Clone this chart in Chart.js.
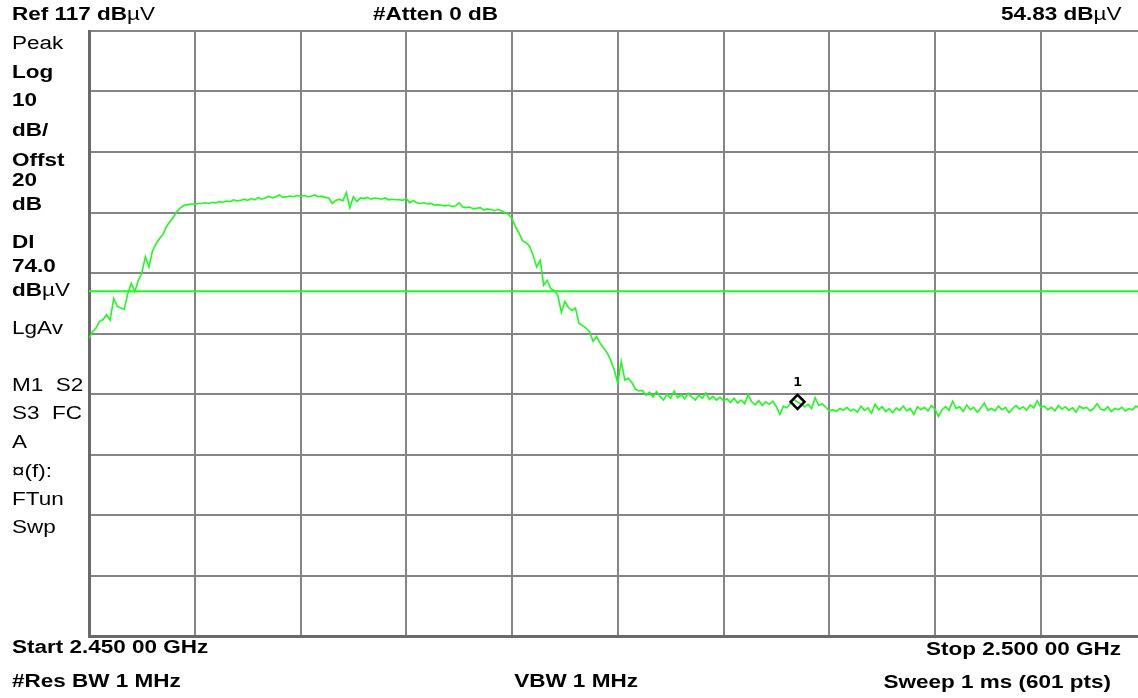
<!DOCTYPE html>
<html>
<head>
<meta charset="utf-8">
<script src="https://cdn.jsdelivr.net/npm/chart.js@4.4.1/dist/chart.umd.min.js"></script>
<style>
  html, body { margin: 0; padding: 0; background: #fff; width: 1138px; height: 698px; overflow: hidden; }
  #wrap { position: absolute; left: 0; top: 0; width: 1156px; height: 698px; }
  canvas { position: absolute; left: 0; top: 0; }
  .t { position: absolute; font-family: "Liberation Sans", Arial, sans-serif; font-size: 18px; line-height: 20px;
       color: #000; white-space: pre; transform: scaleX(1.25); transform-origin: left center; }
  .b { font-weight: bold; }
  .n { font-weight: normal; }
  .r { transform-origin: right center; }
  .c { transform-origin: center center; }
  #mk { position: absolute; font-family: "DejaVu Sans Mono", monospace; font-size: 12px; font-weight: bold; line-height: 12px; color: #000; transform: scaleX(1.2); }
</style>
</head>
<body>
<div id="wrap"><canvas id="c" width="1156" height="698"></canvas></div>

<div class="t b" style="left:12px; top:4px;">Ref 117 dB<span class="n">µV</span></div>
<div class="t b" style="left:373px; top:4px;">#Atten 0 dB</div>
<div class="t b r" style="right:17px; top:4px;">54.83 dB<span class="n">µV</span></div>

<div class="t" style="left:12px; top:33px;">Peak</div>
<div class="t b" style="left:12px; top:62px;">Log</div>
<div class="t b" style="left:12px; top:90px;">10</div>
<div class="t b" style="left:12px; top:120px;">dB/</div>
<div class="t b" style="left:12px; top:150px;">Offst</div>
<div class="t b" style="left:12px; top:170px;">20</div>
<div class="t b" style="left:12px; top:194px;">dB</div>
<div class="t b" style="left:12px; top:232px;">Dl</div>
<div class="t b" style="left:12px; top:256px;">74.0</div>
<div class="t b" style="left:12px; top:280px;">dB<span class="n">µV</span></div>
<div class="t" style="left:12px; top:318px;">LgAv</div>
<div class="t" style="left:12px; top:375px;">M1&nbsp;&nbsp;S2</div>
<div class="t" style="left:12px; top:403px;">S3&nbsp;&nbsp;FC</div>
<div class="t" style="left:12px; top:432px;">A</div>
<div class="t" style="left:12px; top:461px;">¤(f):</div>
<div class="t" style="left:12px; top:489px;">FTun</div>
<div class="t" style="left:12px; top:517px;">Swp</div>

<div class="t b" style="left:12px; top:637px;">Start 2.450 00 GHz</div>
<div class="t b" style="left:12px; top:671px;">#Res BW 1 MHz</div>
<div class="t b c" style="left:512px; width:128px; text-align:center; top:671px;">VBW 1 MHz</div>
<div class="t b r" style="right:17px; top:639px;">Stop 2.500 00 GHz</div>
<div class="t b r" style="right:27px; top:672px;">Sweep 1 ms (601 pts)</div>

<div id="mk">1</div>

<script>
// Sweep settings
const START_MHZ = 2450;
const STOP_MHZ = 2500;
const REF_LEVEL = 117;      // dBµV, top of screen
const DB_PER_DIV = 10;
const DIVISIONS = 10;
const DISPLAY_LINE = 74.0;  // dBµV
const MARKER_INDEX = 201;   // trace point where marker 1 sits

const levelsRise = [66.2, 67.3, 67.9, 69.0, 69.3, 70.1, 69.2, 72.8, 71.5, 71.2, 71.0, 73.6, 75.3, 73.9, 75.8, 77.0, 79.7, 78.0, 80.6, 81.8, 82.7, 83.4, 84.7, 85.5, 86.3, 87.2, 87.8];
const levelsTopA = [88.2, 88.3, 88.4, 88.4, 88.5, 88.5, 88.6, 88.5, 88.7, 88.6, 88.8, 88.7, 88.9, 88.8, 89.1, 88.9, 89.0, 89.2, 89.0, 89.3, 89.1, 89.5, 89.2, 89.4, 89.7, 89.4, 89.6, 89.9, 89.5, 89.6, 89.7, 89.6, 89.8, 89.7];
const levelsTopB = [89.8, 89.6, 89.7, 89.9, 89.6, 89.7, 89.5, 89.4, 88.5, 89.0, 89.2, 88.9, 90.3, 87.8, 89.6, 88.8, 89.4, 89.3, 89.5, 89.2, 89.4, 89.3, 89.2, 89.4, 89.1, 89.2, 89.1, 89.1, 89.0, 89.3];
const levelsTopC = [88.6, 89.0, 88.6, 88.5, 88.6, 88.4, 88.5, 88.2, 88.3, 88.2, 88.1, 88.2, 88.0, 88.1, 88.6, 87.9, 87.8, 87.9, 87.6, 87.7, 87.8, 87.4, 87.6, 87.5, 87.3, 87.5, 87.3];
const levelsFall = [87.0, 86.7, 86.0, 84.6, 83.6, 82.3, 82.0, 81.4, 79.9, 78.0, 79.1, 75.0, 75.8, 74.4, 74.1, 73.3, 70.5, 72.3, 71.3, 70.8, 71.2, 68.7, 68.3, 67.9, 67.3, 65.7, 66.5, 65.4, 64.6, 63.8, 62.6, 61.0, 58.8, 62.4, 59.3, 59.6, 58.9, 57.8, 57.5, 57.6];
const levelsFloorA = [56.8, 57.3, 56.5, 57.4, 56.6, 56.0, 57.0, 56.3, 57.5, 56.4, 56.9, 56.2, 57.1, 56.5, 56.0, 56.8, 56.3, 57.2, 56.1, 56.6, 56.0, 56.5, 55.9];
const levelsFloorB = [56.2, 55.6, 56.3, 55.5, 56.0, 55.4, 56.9, 55.7, 55.2, 55.9, 55.1, 55.7, 55.3, 55.8, 54.9, 53.6, 55.0, 54.7, 55.5, 56.1, 55.7, 55.3, 54.9, 55.3, 54.6, 56.4, 55.1, 55.4, 54.8];
const levelsFloorC = [54.2, 54.4, 54.1, 54.6, 54.3, 54.8, 54.2, 54.5, 54.0, 55.0, 54.3, 54.7, 53.8, 55.3, 54.4, 54.9, 54.1, 54.6, 53.9, 54.7, 54.3, 55.0, 54.2, 54.6, 53.6, 54.9, 54.4, 54.8, 54.2, 55.1, 54.5];
const levelsFloorD = [53.3, 54.4, 54.9, 54.3, 55.8, 54.6, 54.9, 54.1, 55.2, 54.4, 54.8, 54.0, 54.7, 55.5, 54.3, 54.6, 54.2, 55.0, 54.4, 54.8, 53.9, 54.6, 55.1, 54.5, 54.9, 54.3, 55.2, 54.7, 55.9, 54.8];
const levelsFloorE = [55.0, 54.4, 54.8, 54.2, 55.1, 54.5, 54.9, 54.3, 54.7, 54.0, 55.0, 54.6, 54.8, 54.2, 54.6, 55.4, 54.5, 54.3, 54.9, 54.1, 54.6, 54.4, 54.8, 54.2, 54.6, 54.4, 55.0, 54.7, 55.4, 55.2];

const levels = [].concat(levelsRise, levelsTopA, levelsTopB, levelsTopC, levelsFall,
                         levelsFloorA, levelsFloorB, levelsFloorC, levelsFloorD, levelsFloorE);
const stepMHz = (STOP_MHZ - START_MHZ) / (levels.length - 1);
const trace = levels.map((v, i) => ({ x: START_MHZ + i * stepMHz, y: v }));
const markerPoint = [trace[MARKER_INDEX]];

const GREEN = 'rgb(30,252,30)';
const GRID = '#858585';

const markerLabel = {
  id: 'markerLabel',
  afterDraw(chart) {
    const xs = chart.scales.x, ys = chart.scales.y;
    const px = xs.getPixelForValue(markerPoint[0].x);
    const py = ys.getPixelForValue(markerPoint[0].y);
    const el = document.getElementById('mk');
    el.style.left = (px - 4) + 'px';
    el.style.top = (py - 26) + 'px';
  }
};

new Chart(document.getElementById('c'), {
  type: 'line',
  data: {
    datasets: [
      { data: trace, borderColor: GREEN, borderWidth: 1.6, pointRadius: 0, tension: 0, order: 2 },
      { data: [{ x: START_MHZ, y: DISPLAY_LINE }, { x: STOP_MHZ, y: DISPLAY_LINE }],
        borderColor: GREEN, borderWidth: 2, pointRadius: 0, order: 3 },
      { data: markerPoint, showLine: false, pointStyle: 'rectRot', pointRadius: 7,
        pointBorderColor: '#000', pointBackgroundColor: 'rgba(0,0,0,0)', pointBorderWidth: 2.5, order: 1 }
    ]
  },
  options: {
    responsive: false,
    animation: false,
    devicePixelRatio: 1,
    layout: { padding: { left: 89, top: 31, right: 6, bottom: 62 } },
    plugins: { legend: { display: false }, tooltip: { enabled: false } },
    scales: {
      x: {
        type: 'linear', min: START_MHZ, max: STOP_MHZ,
        ticks: { display: false, stepSize: (STOP_MHZ - START_MHZ) / DIVISIONS },
        grid: { color: GRID, lineWidth: 2, drawTicks: false },
        border: { display: true, color: '#6a6a6a', width: 3 }
      },
      y: {
        min: REF_LEVEL - DB_PER_DIV * DIVISIONS, max: REF_LEVEL,
        ticks: { display: false, stepSize: DB_PER_DIV },
        grid: { color: GRID, lineWidth: 2, drawTicks: false },
        border: { display: true, color: '#6a6a6a', width: 3 }
      }
    }
  },
  plugins: [markerLabel]
});
</script>
</body>
</html>
